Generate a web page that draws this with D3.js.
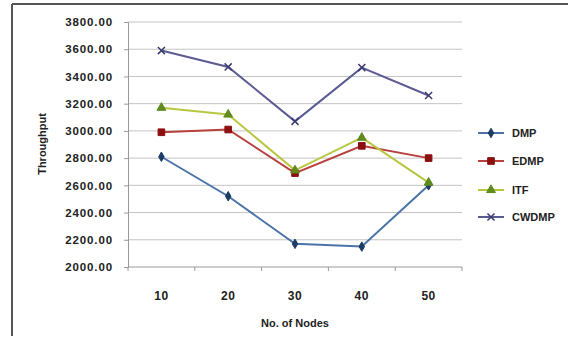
<!DOCTYPE html>
<html>
<head>
<meta charset="utf-8">
<script src="https://cdn.jsdelivr.net/npm/d3@7"></script>
<style>
  html, body { margin: 0; padding: 0; background: #fff; }
  svg { display: block; }
  text { font-family: "Liberation Sans", Arial, sans-serif; font-weight: bold; fill: #222; }
</style>
</head>
<body>
<svg id="chart" width="568" height="340"></svg>
<script>
const categories = ["10", "20", "30", "40", "50"];
const dmp   = [2810, 2520, 2170, 2150, 2600];
const edmp  = [2990, 3010, 2690, 2890, 2800];
const itf   = [3170, 3120, 2710, 2950, 2620];
const cwdmp = [3590, 3470, 3070, 3465, 3260];
const yTicks = [2000, 2200, 2400, 2600, 2800, 3000, 3200, 3400, 3600, 3800];
const seriesNames = ["DMP", "EDMP", "ITF", "CWDMP"];

const series = [
  { name: seriesNames[0], values: dmp,   line: "#4a74a8", fill: "#1c3c66", shape: d3.symbolDiamond, size: 26 },
  { name: seriesNames[1], values: edmp,  line: "#b8403d", fill: "#8c1010", shape: d3.symbolSquare,  size: 44 },
  { name: seriesNames[2], values: itf,   line: "#b9c640", fill: "#5f8a1e", shape: d3.symbolTriangle, size: 34 },
  { name: seriesNames[3], values: cwdmp, line: "#5b5b94", fill: "#3a3a70", shape: null, size: 0 }
];

const svg = d3.select("#chart");

// outer frame (left + top edges)
svg.append("line").attr("x1", 12).attr("x2", 568).attr("y1", 4).attr("y2", 4)
  .attr("stroke", "#555").attr("stroke-width", 2);
svg.append("line").attr("x1", 12).attr("x2", 12).attr("y1", 4).attr("y2", 336)
  .attr("stroke", "#555").attr("stroke-width", 2);

const x = d3.scaleBand().domain(categories).range([128, 462]);
const y = d3.scaleLinear().domain([2000, 3800]).range([267, 22]);

// gridlines
svg.append("g").selectAll("line").data(yTicks.slice(1)).join("line")
  .attr("x1", 128).attr("x2", 462)
  .attr("y1", d => y(d)).attr("y2", d => y(d))
  .attr("stroke", "#c4c4c4").attr("stroke-width", 1);

// y axis
const yAxis = d3.axisLeft(y).tickValues(yTicks).tickSize(4).tickPadding(11)
  .tickFormat(d3.format(".2f"));
const gy = svg.append("g").attr("transform", "translate(128,0)").call(yAxis);
gy.select(".domain").attr("stroke", "#999");
gy.selectAll(".tick line").attr("stroke", "#999");
gy.selectAll("text").attr("font-size", 11.5).attr("letter-spacing", 0.9)
  .style("font-family", "'Liberation Sans', Arial, sans-serif").style("font-weight", "bold").attr("fill", "#222");

// x axis
const gx = svg.append("g").attr("transform", "translate(0,267)");
gx.append("line").attr("x1", 128).attr("x2", 462).attr("y1", 0).attr("y2", 0).attr("stroke", "#999");
const bounds = categories.map(c => x(c)).concat([x(categories[categories.length - 1]) + x.bandwidth()]);
gx.selectAll("line.tk").data(bounds).join("line").attr("class", "tk")
  .attr("x1", d => d).attr("x2", d => d).attr("y1", 0).attr("y2", 4).attr("stroke", "#999");
gx.selectAll("text").data(categories).join("text")
  .attr("x", d => x(d) + x.bandwidth() / 2).attr("y", 33)
  .attr("text-anchor", "middle").attr("font-size", 12).attr("letter-spacing", 0.5)
  .text(d => d);

// axis titles
svg.append("text").attr("transform", "translate(46,144) rotate(-90)")
  .attr("text-anchor", "middle").attr("font-size", 11).text("Throughput");
svg.append("text").attr("x", 295).attr("y", 327)
  .attr("text-anchor", "middle").attr("font-size", 11).text("No. of Nodes");

// lines + markers
const line = d3.line().x((d, i) => x(categories[i]) + x.bandwidth() / 2).y(d => y(d));

function drawMarker(g, s, cx, cy) {
  if (s.shape) {
    g.append("path").attr("d", d3.symbol().type(s.shape).size(s.size)())
      .attr("transform", `translate(${cx},${cy})`)
      .attr("fill", s.fill).attr("stroke", s.fill).attr("stroke-width", 1);
  } else {
    g.append("path").attr("d", d3.symbol().type(d3.symbolTimes).size(34)())
      .attr("transform", `translate(${cx},${cy})`)
      .attr("fill", "none").attr("stroke", s.fill).attr("stroke-width", 1.5);
  }
}

series.forEach(s => {
  const g = svg.append("g");
  g.append("path").datum(s.values).attr("d", line)
    .attr("fill", "none").attr("stroke", s.line).attr("stroke-width", 2);
  s.values.forEach((v, i) => drawMarker(g, s, x(categories[i]) + x.bandwidth() / 2, y(v)));
});

// legend
const legY = [133, 161, 190, 217];
series.forEach((s, i) => {
  const g = svg.append("g");
  g.append("line").attr("x1", 478).attr("x2", 504).attr("y1", legY[i]).attr("y2", legY[i])
    .attr("stroke", s.line).attr("stroke-width", 2);
  drawMarker(g, s, 491, legY[i]);
  g.append("text").attr("x", 512).attr("y", legY[i] + 4).attr("font-size", 11)
    .text(s.name);
});
</script>
</body>
</html>
